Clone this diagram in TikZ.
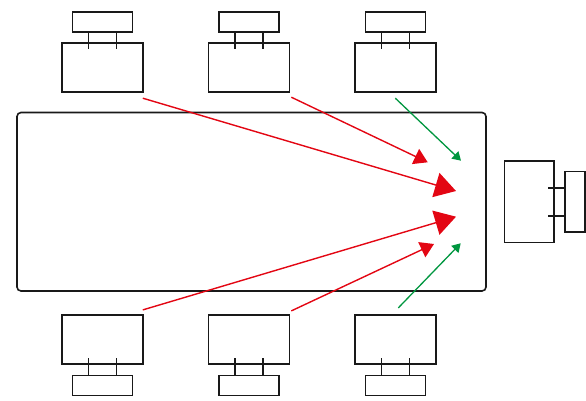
\documentclass[tikz,border=0pt]{standalone}
\usepackage{tikz}
\usetikzlibrary{positioning}
\usetikzlibrary{arrows.meta}
\definecolor{tablered}{HTML}{E30613}
\definecolor{tablegreen}{HTML}{00963F}
\begin{document}
\begin{tikzpicture}[x=1pt,y=1pt,
		seat/.style={draw=black!90,line width=1.6pt,rectangle,inner sep=0pt,outer sep=0pt,minimum width=81pt,minimum height=49pt},
		back/.style={draw=black!90,line width=1.6pt,rectangle,inner sep=0pt,outer sep=0pt,minimum width=60pt,minimum height=20pt},
		leg/.style={draw=black!90,line width=1.6pt},
		bigred/.style={draw=tablered,line width=1.4pt,-{Triangle[length=21pt,width=25pt]}},
		smallred/.style={draw=tablered,line width=1.4pt,-{Triangle[length=13.5pt,width=16.5pt]}},
		greenarrow/.style={draw=tablegreen,line width=1.3pt,-{Triangle[length=8.5pt,width=10pt]}}]
		\useasboundingbox (0,0) rectangle (586,401);
		\node[draw=black!90,line width=1.6pt,rectangle,rounded corners=4pt,inner sep=0pt,minimum width=469pt,minimum height=178.5pt] at (251.5,199.25) (table) {};

		% chairs above the table
		\node[seat] at (102.3,333.3) (t1) {};
		\node[seat,right = 65.5pt of t1] (t2) {};
		\node[seat,right = 65.5pt of t2] (t3) {};
		\node[back,above = 11pt of t1] (tk1) {};
		\node[back,above = 11pt of t2] (tk2) {};
		\node[back,above = 11pt of t3] (tk3) {};

		% chairs below the table
		\node[seat] at (102.3,61.6) (b1) {};
		\node[seat,right = 65.5pt of b1] (b2) {};
		\node[seat,right = 65.5pt of b2] (b3) {};
		\node[back,below = 11.5pt of b1] (bk1) {};
		\node[back,below = 11.5pt of b2] (bk2) {};
		\node[back,below = 11.5pt of b3] (bk3) {};

		% chair at the head
		\node[seat,minimum width=49.4pt,minimum height=81.7pt] at (529,199.2) (h) {};
		\node[back,right = 11.3pt of h,minimum width=20pt,minimum height=60.3pt] (hk) {};

		\draw[leg] ([xshift=-14pt]tk1.south) to ([xshift=-14pt,yshift=-6pt]t1.north);
		\draw[leg] ([xshift=14pt]tk1.south) to ([xshift=14pt,yshift=-6pt]t1.north);
		\draw[leg] ([xshift=-14pt]tk2.south) to ([xshift=-14pt,yshift=-6pt]t2.north);
		\draw[leg] ([xshift=14pt]tk2.south) to ([xshift=14pt,yshift=-6pt]t2.north);
		\draw[leg] ([xshift=-14pt]tk3.south) to ([xshift=-14pt,yshift=-6pt]t3.north);
		\draw[leg] ([xshift=14pt]tk3.south) to ([xshift=14pt,yshift=-6pt]t3.north);
		\draw[leg] ([xshift=-14pt]bk1.north) to ([xshift=-14pt,yshift=6pt]b1.south);
		\draw[leg] ([xshift=14pt]bk1.north) to ([xshift=14pt,yshift=6pt]b1.south);
		\draw[leg] ([xshift=-14pt]bk2.north) to ([xshift=-14pt,yshift=6pt]b2.south);
		\draw[leg] ([xshift=14pt]bk2.north) to ([xshift=14pt,yshift=6pt]b2.south);
		\draw[leg] ([xshift=-14pt]bk3.north) to ([xshift=-14pt,yshift=6pt]b3.south);
		\draw[leg] ([xshift=14pt]bk3.north) to ([xshift=14pt,yshift=6pt]b3.south);
		\draw[leg] ([yshift=14pt]hk.west) to ([yshift=14pt,xshift=-6pt]h.east);
		\draw[leg] ([yshift=-14pt]hk.west) to ([yshift=-14pt,xshift=-6pt]h.east);

		% where the looks go
		\coordinate (ta) at ([yshift=-6pt]t1.south east);
		\coordinate (tb) at ([xshift=2pt,yshift=-5pt]t2.south east);
		\coordinate (tc) at ([yshift=-6pt]t3.south);
		\coordinate (ba) at ([yshift=5pt]b1.north east);
		\coordinate (bb) at ([xshift=2pt,yshift=4pt]b2.north east);
		\coordinate (bc) at ([xshift=3pt,yshift=7pt]b3.north);
		\coordinate (ea) at (456,210);
		\coordinate (eb) at (427.7,238.7);
		\coordinate (ec) at (461,240.3);
		\coordinate (fa) at (456,184.3);
		\coordinate (fb) at (434,157);
		\coordinate (fc) at (460.7,157.7);

		\draw[bigred] (ta) to (ea);
		\draw[smallred] (tb) to (eb);
		\draw[greenarrow] (tc) to (ec);
		\draw[bigred] (ba) to (fa);
		\draw[smallred] (bb) to (fb);
		\draw[greenarrow] (bc) to (fc);
	\end{tikzpicture}
\end{document}
